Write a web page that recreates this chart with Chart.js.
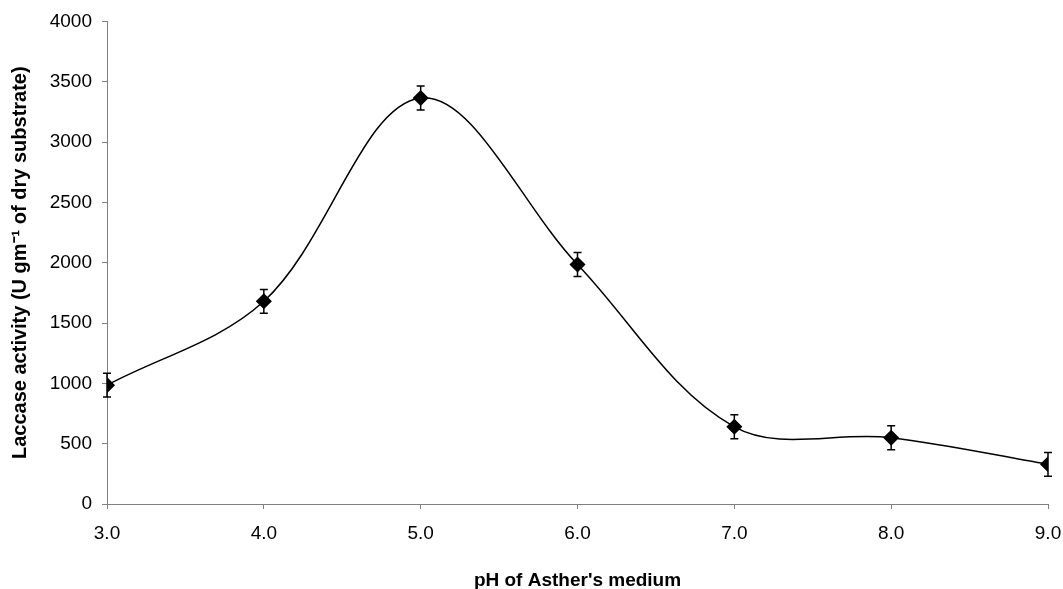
<!DOCTYPE html>
<html>
<head>
<meta charset="utf-8">
<script src="https://cdn.jsdelivr.net/npm/chart.js@4.4.1/dist/chart.umd.min.js"></script>
<style>
  html, body { margin: 0; padding: 0; background: #fff; }
  #wrap { width: 1063px; height: 589px; }
</style>
</head>
<body>
<div id="wrap"><canvas id="phChart" width="1063" height="589"></canvas></div>
<script>
// pH values and laccase activity
const phValues = [3.0, 4.0, 5.0, 6.0, 7.0, 8.0, 9.0];
const activity = [985, 1680, 3365, 1985, 640, 549, 329];
const errors = [98, 98, 100, 100, 100, 100, 98];
const yTicks = [0, 500, 1000, 1500, 2000, 2500, 3000, 3500, 4000];

const FONT = 'Liberation Sans, Arial, sans-serif';

// error bars drawn through the chart scales
const errorBars = {
    id: 'errorBars',
    afterDatasetsDraw(chart) {
        const ctx = chart.ctx;
        const xs = chart.scales.x;
        const ys = chart.scales.y;
        ctx.save();
        ctx.strokeStyle = '#000';
        ctx.lineWidth = 1.5;
        phValues.forEach((ph, i) => {
            const x = xs.getPixelForValue(ph);
            const top = ys.getPixelForValue(activity[i] + errors[i]);
            const bot = ys.getPixelForValue(activity[i] - errors[i]);
            ctx.beginPath();
            ctx.moveTo(x, top); ctx.lineTo(x, bot);
            ctx.moveTo(x - 4, top); ctx.lineTo(x + 4, top);
            ctx.moveTo(x - 4, bot); ctx.lineTo(x + 4, bot);
            ctx.stroke();
        });
        ctx.restore();
    }
};

const ctx = document.getElementById('phChart').getContext('2d');
const phChart = new Chart(ctx, {
    type: 'line',
    data: {
        datasets: [{
            data: phValues.map((ph, i) => ({ x: ph, y: activity[i] })),
            borderColor: '#000',
            borderWidth: 1.5,
            backgroundColor: '#000',
            pointStyle: 'rectRot',
            pointRadius: 7,
            pointBackgroundColor: '#000',
            pointBorderColor: '#000',
            tension: 0.35,
            fill: false
        }]
    },
    options: {
        responsive: false,
        animation: false,
        layout: { padding: { left: 0, right: 15, top: 21, bottom: 0 } },
        plugins: {
            legend: { display: false },
            tooltip: { enabled: false }
        },
        scales: {
            x: {
                type: 'linear',
                min: 3,
                max: 9,
                border: { color: '#808080', width: 1 },
                grid: { drawOnChartArea: false, color: '#808080', tickLength: 5 },
                ticks: {
                    stepSize: 1,
                    padding: 13,
                    color: '#000',
                    font: { family: FONT, size: 19 },
                    callback: v => Number(v).toFixed(1)
                },
                title: {
                    display: true,
                    text: "pH of Asther's medium",
                    color: '#000',
                    font: { family: FONT, size: 19, weight: 'bold', lineHeight: 0.9 },
                    padding: { top: 0, bottom: 0 }
                },
                afterFit: s => {
                    s.height = 85;
                    // let the last label run into the margin like the original
                    s.paddingLeft = 0;
                    s.paddingRight = 0;
                }
            },
            y: {
                min: 0,
                max: 4000,
                border: { color: '#808080', width: 1 },
                grid: { drawOnChartArea: false, color: '#808080', tickLength: 5 },
                afterBuildTicks: s => { s.ticks = yTicks.map(v => ({ value: v })); },
                ticks: {
                    padding: 10,
                    color: '#000',
                    font: { family: FONT, size: 19 },
                    callback: v => String(v)
                },
                title: {
                    display: true,
                    text: 'Laccase activity (U gm⁻¹ of dry substrate)',
                    color: '#000',
                    font: { family: FONT, size: 20, weight: 'bold', lineHeight: 1 },
                    padding: { top: 10, bottom: 0 }
                },
                afterFit: s => { s.width = 107; }
            }
        }
    },
    plugins: [errorBars]
});
</script>
</body>
</html>
